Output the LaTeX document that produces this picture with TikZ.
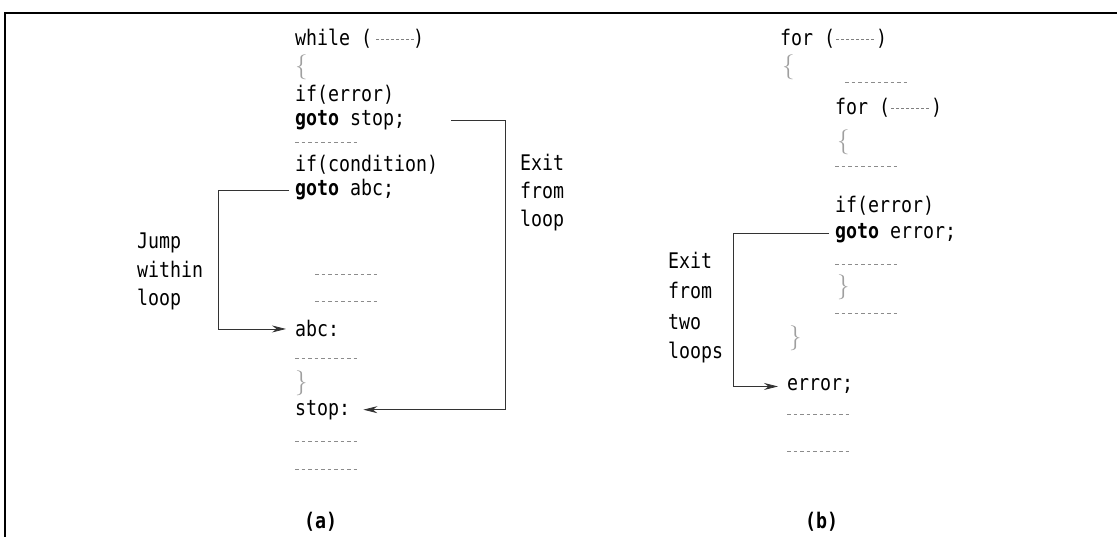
\documentclass[tikz,border=0pt]{standalone}
\usepackage{fontspec}
\setmainfont{DejaVu Sans Mono}[FakeStretch=0.85]
\newfontfamily\bracefont{Latin Modern Roman}
\usetikzlibrary{arrows.meta}
\newcommand{\dl}[1]{\kern-2pt{\color{gray}\leaders\hbox to 5pt{\hss\rule[0.30em]{2.6pt}{0.6pt}\hss}\hskip #1}\kern-2pt}
\tikzset{
  code/.style={anchor=base west, inner sep=0pt, font=\fontsize{21.5}{24}\selectfont},
  brace/.style={anchor=west, inner sep=0pt, text=gray!75, font=\fontsize{25}{26}\bracefont},
  dots/.style={draw=gray!90, line width=0.7pt, dash pattern=on 3.5pt off 3pt},
  link/.style={draw=black!80, line width=0.8pt, -{Stealth[length=14pt,width=7pt]}},
  frame/.style={line width=2.6pt},
}
\begin{document}
\begin{tikzpicture}[x=1pt,y=-1pt]
\useasboundingbox (0,0) rectangle (1117,537);
\draw[frame] (5,537) -- (5,13) -- (1117,13);

% ---------- (a) ----------
\node[code] (w) at (295,46) {while (\dl{45pt})};
\node[brace] (ob) at (295,67) {\{};
\node[code] (ie) at (295,102) {if(error)};
\node[code] (gs) at (295,126) {\textbf{goto} stop;};
\draw[dots] (295,142) -- (358,142);
\node[code] (ic) at (295,172) {if(condition)};
\node[code] (ga) at (295,196) {\textbf{goto} abc;};
\draw[dots] (315,274) -- (378,274);
\draw[dots] (315,301) -- (378,301);
\node[code] (abc) at (295,337) {abc:};
\draw[dots] (295,358) -- (358,358);
\node[brace] (cb) at (295,383) {\}};
\node[code] (stop) at (295,415) {stop:};
\draw[dots] (295,441) -- (358,441);
\draw[dots] (295,469) -- (358,469);
\node[code, font=\fontsize{21.5}{24}\selectfont\bfseries] (la) at (304,528) {(a)};

\node[code] (j1) at (137,249) {Jump};
\node[code] (j2) at (137,278) {within};
\node[code] (j3) at (137,306) {loop};
\node[code] (e1) at (520,171) {Exit};
\node[code] (e2) at (520,199) {from};
\node[code] (e3) at (520,227) {loop};

\coordinate (jx) at (218,0);
\coordinate (ex) at (505,0);
\draw[link, shorten <=6pt, shorten >=9pt] (ga.west) -- (ga.west -| jx) |- (abc.west);
\draw[link, shorten <=46pt, shorten >=13pt] (gs.east) -- (gs.east -| ex) |- (stop.east);

% ---------- (b) ----------
\node[code] (f1) at (780,46) {for (\dl{45pt})};
\node[brace] (ob1) at (782,67) {\{};
\draw[dots] (845,82) -- (908,82);
\node[code] (f2) at (835,115) {for (\dl{45pt})};
\node[brace] (ob2) at (837,142) {\{};
\draw[dots] (835,166) -- (898,166);
\node[code] (ie2) at (835,213) {if(error)};
\node[code] (ge) at (835,239) {\textbf{goto} error;};
\draw[dots] (835,264) -- (898,264);
\node[brace] (cb2) at (837,287) {\}};
\draw[dots] (835,313) -- (898,313);
\node[brace] (cb1) at (789,338) {\}};
\node[code] (err) at (787,391) {error;};
\draw[dots] (787,414) -- (850,414);
\draw[dots] (787,451) -- (850,451);
\node[code, font=\fontsize{21.5}{24}\selectfont\bfseries] (lb) at (805,528) {(b)};

\node[code] (x1) at (668,269) {Exit};
\node[code] (x2) at (668,299) {from};
\node[code] (x3) at (668,330) {two};
\node[code] (x4) at (668,359) {loops};

\coordinate (bx) at (733,0);
\draw[link, shorten <=6pt, shorten >=9pt] (ge.west) -- (ge.west -| bx) |- (err.west);
\end{tikzpicture}
\end{document}
